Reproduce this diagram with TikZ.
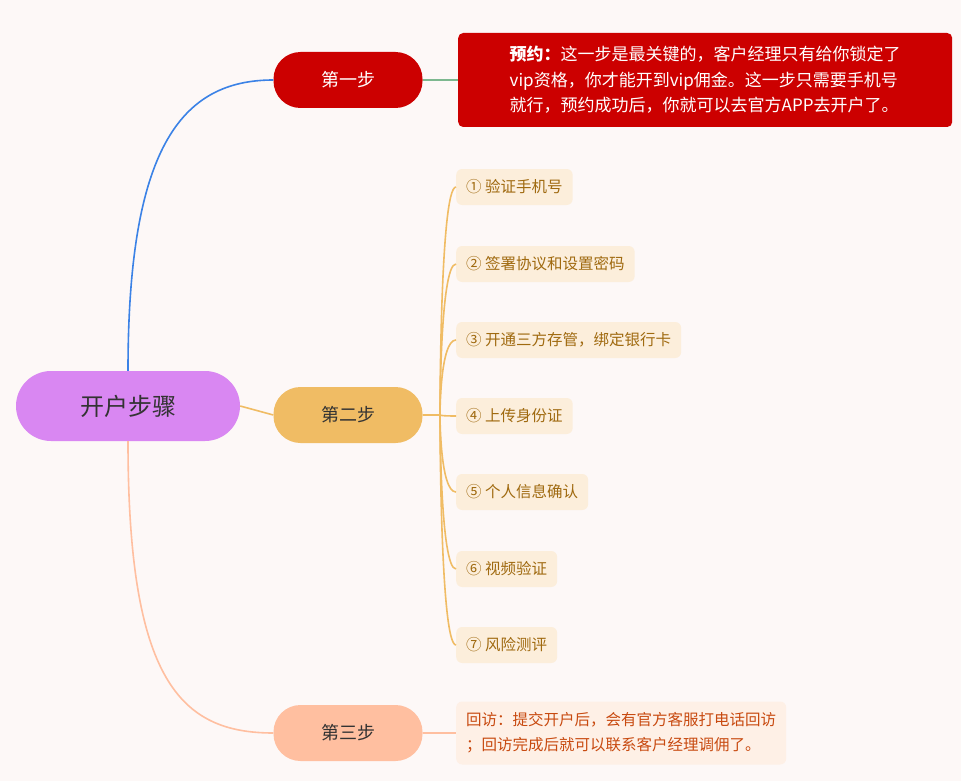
\documentclass[tikz,border=0pt]{standalone}
\usepackage{fontspec}
\setmainfont{Noto Sans CJK SC}
\definecolor{bg}{HTML}{FDF8F7}
\definecolor{rootc}{HTML}{D987F2}
\definecolor{redc}{HTML}{CC0000}
\definecolor{orc}{HTML}{F0BC64}
\definecolor{salc}{HTML}{FFBFA0}
\definecolor{itemf}{HTML}{FCEEDB}
\definecolor{itemt}{HTML}{A06A10}
\definecolor{b3f}{HTML}{FEF0E6}
\definecolor{b3t}{HTML}{C84A10}
\definecolor{bluec}{HTML}{3B82E6}
\definecolor{greenc}{HTML}{7DB88F}
\begin{document}
\begin{tikzpicture}[x=1pt,y=-1pt,
 pill/.style={rounded corners=27pt,minimum width=149pt,minimum height=56pt,font=\fontsize{18}{20}\selectfont},
 item/.style={fill=itemf,rounded corners=6pt,text=itemt,anchor=west,minimum height=36pt,inner xsep=10pt,font=\fontsize{15.5}{18}\selectfont},
 lk/.style={line width=1.6pt}]
\fill[bg] (0,0) rectangle (961,781);
\node[fill=rootc,rounded corners=35pt,minimum width=224pt,minimum height=70pt,font=\fontsize{24}{26}\selectfont,text=black!80] (root) at (128,406) {开户步骤};
\node[pill,fill=redc,text=white] (s1) at (348,80) {第一步};
\node[pill,fill=orc,text=black!80] (s2) at (348,415) {第二步};
\node[pill,fill=salc,text=black!80] (s3) at (348,733) {第三步};
\node[fill=redc,rounded corners=5pt,anchor=west,minimum width=494pt,minimum height=94pt,text=white,align=left,font=\fontsize{17}{25.5}\selectfont,inner xsep=8pt] (b1) at (458,80) {\textbf{\textit{预约：}}这一步是最关键的，客户经理只有给你锁定了\\vip资格，你才能开到vip佣金。这一步只需要手机号\\就行，预约成功后，你就可以去官方APP去开户了。};
\node[fill=b3f,rounded corners=6pt,anchor=west,minimum height=63pt,text=b3t,align=left,font=\fontsize{15.5}{25}\selectfont,inner xsep=10pt] (b3) at (456,733) {回访：提交开户后，会有官方客服打电话回访\\；回访完成后就可以联系客户经理调佣了。};
\node[item] (i1) at (456,187) {① 验证手机号};
\node[item] (i2) at (456,264) {② 签署协议和设置密码};
\node[item] (i3) at (456,340) {③ 开通三方存管，绑定银行卡};
\node[item] (i4) at (456,416) {④ 上传身份证};
\node[item] (i5) at (456,492) {⑤ 个人信息确认};
\node[item] (i6) at (456,569) {⑥ 视频验证};
\node[item] (i7) at (456,645) {⑦ 风险测评};
\draw[lk,bluec] (root.north) .. controls (128,150) and (180,80) .. (s1.west);
\draw[lk,salc] (root.south) .. controls (128,680) and (180,733) .. (s3.west);
\draw[lk,orc] (root.east) -- (s2.west);
\draw[lk,greenc] (s1.east) -- (b1.west);
\draw[lk,salc] (s2.east) -- (s2.east) (s3.east) -- (b3.west);
\coordinate (hub) at (440,415);
\draw[lk,orc] (s2.east) -- (hub);
\foreach \i in {1,...,7}{
  \draw[lk,orc] (hub) .. controls (440,415) and (440,0|-i\i.west) .. ([xshift=0pt]i\i.west);
}
\end{tikzpicture}
\end{document}
